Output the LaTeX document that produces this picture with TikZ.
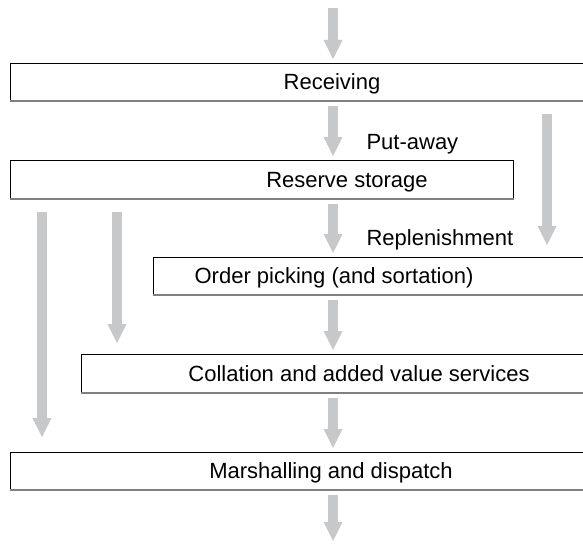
\documentclass[tikz,border=0pt]{standalone}
\usepackage{fontspec}
\setmainfont{Liberation Sans}
\usetikzlibrary{arrows.meta}

\definecolor{flowgray}{HTML}{C7C8CA}
\definecolor{edgegray}{HTML}{808080}

\begin{document}
\begin{tikzpicture}[
                x=1pt, y=-1pt,
                stage/.style={draw=black, line width=.8pt, anchor=north west, inner sep=0pt},
                lbl/.style={font=\fontsize{22}{26}\selectfont, anchor=base, yshift=-8pt},
                flow/.style={draw=flowgray, line width=10.5pt,
                    -{Triangle[width=19pt, length=19pt, line width=0pt]},
                    shorten <=5pt, shorten >=4pt},
            ]
                \useasboundingbox (0,0) rectangle (583,543);
                \clip (0,0) rectangle (583,543);
                \coordinate (axis) at (333,0);

                %% the stages, open at the right
                \node[stage, minimum width=600pt, minimum height=37pt] (recv) at (10,63) {};
                \node[stage, minimum width=503pt, minimum height=38pt] (resv) at (10,160) {};
                \node[stage, minimum width=450pt, minimum height=37pt] (pick) at (153,257) {};
                \node[stage, minimum width=520pt, minimum height=38pt] (coll) at (81,354) {};
                \node[stage, minimum width=600pt, minimum height=37pt] (mars) at (10,452) {};
                \foreach \n in {recv, resv, pick, coll, mars}{
                    \draw[edgegray, line width=2.2pt] (\n.south west) -- (\n.south east);
                }

                \node[lbl] at (recv.center -| 332,0) {Receiving};
                \node[lbl] at (resv.center -| 347,0) {Reserve storage};
                \node[lbl] at (pick.center -| 334,0) {Order picking (and sortation)};
                \node[lbl] at (coll.center -| 359,0) {Collation and added value services};
                \node[lbl] at (mars.center -| 331,0) {Marshalling and dispatch};

                %% free ends in and out
                \coordinate (in) at (333,8);
                \coordinate (out) at (333,541);

                %% main line
                \draw[flow, shorten <=0pt] (in) -- (recv.north -| axis);
                \draw[flow] (recv.south -| axis) -- (resv.north -| axis);
                \draw[flow] (resv.south -| axis) -- (pick.north -| axis);
                \draw[flow] (pick.south -| axis) -- (coll.north -| axis);
                \draw[flow] (coll.south -| axis) -- (mars.north -| axis);
                \draw[flow, shorten >=0pt] (mars.south -| axis) -- (out);

                %% by-passes
                \draw[flow, shorten <=13pt, shorten >=12pt] (recv.south -| 547,0) -- (pick.north -| 547,0);
                \draw[flow, shorten <=13pt, shorten >=15pt] (resv.south -| 42,0) -- (mars.north -| 42,0);
                \draw[flow, shorten <=13pt, shorten >=11pt] (resv.south -| 117,0) -- (coll.north -| 117,0);

                \node[lbl, anchor=base west, yshift=0pt] at (363,141) {Put-away};
                \node[lbl, anchor=base west, yshift=0pt] at (363,237) {Replenishment};
            \end{tikzpicture}
\end{document}
